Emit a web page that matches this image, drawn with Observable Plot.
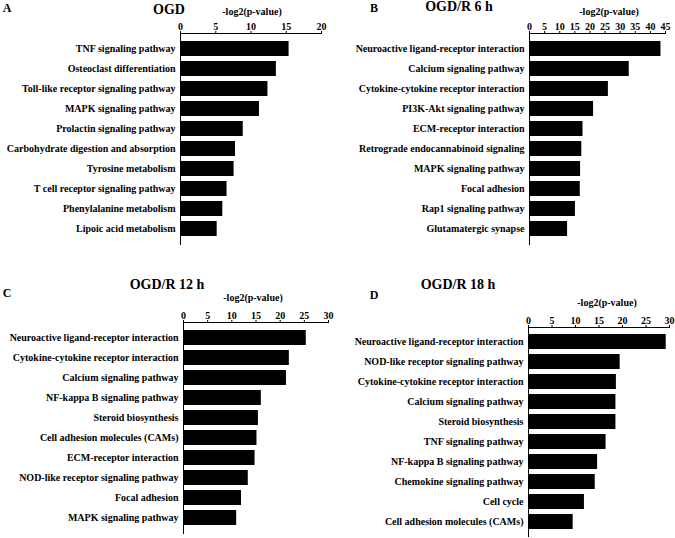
<!DOCTYPE html>
<html><head><meta charset="utf-8">
<script src="https://cdn.jsdelivr.net/npm/d3@7"></script>
<script src="https://cdn.jsdelivr.net/npm/@observablehq/plot@0.6"></script>
<style>
body{margin:0;background:#fff;}
#wrap{position:relative;width:675px;height:538px;overflow:hidden;background:#fff;font-family:"Liberation Serif","Times New Roman",serif;font-weight:bold;color:#000;}
.t{position:absolute;white-space:nowrap;line-height:1;transform:translate(-50%,-50%);}
.p{position:absolute;}
</style></head><body><div id="wrap"></div>
<script>
// Panel A: OGD
const catsA = ["TNF signaling pathway","Osteoclast differentiation","Toll-like receptor signaling pathway","MAPK signaling pathway","Prolactin signaling pathway","Carbohydrate digestion and absorption","Tyrosine metabolism","T cell receptor signaling pathway","Phenylalanine metabolism","Lipoic acid metabolism"];
const valsA = [15.4,13.6,12.4,11.2,8.9,7.8,7.6,6.6,6.0,5.2];
const ticksA = [0,5,10,15,20];
// Panel B: OGD/R 6 h
const catsB = ["Neuroactive ligand-receptor interaction","Calcium signaling pathway","Cytokine-cytokine receptor interaction","PI3K-Akt signaling pathway","ECM-receptor interaction","Retrograde endocannabinoid signaling","MAPK signaling pathway","Focal adhesion","Rap1 signaling pathway","Glutamatergic synapse"];
const valsB = [43.5,33.0,26.1,21.2,17.7,17.3,16.9,16.8,15.2,12.6];
const ticksB = [0,5,10,15,20,25,30,35,40,45];
// Panel C: OGD/R 12 h
const catsC = ["Neuroactive ligand-receptor interaction","Cytokine-cytokine receptor interaction","Calcium signaling pathway","NF-kappa B signaling pathway","Steroid biosynthesis","Cell adhesion molecules (CAMs)","ECM-receptor interaction","NOD-like receptor signaling pathway","Focal adhesion","MAPK signaling pathway"];
const valsC = [25.4,21.9,21.3,16.1,15.5,15.2,14.8,13.4,12.0,11.0];
const ticksC = [0,5,10,15,20,25,30];
// Panel D: OGD/R 18 h
const catsD = ["Neuroactive ligand-receptor interaction","NOD-like receptor signaling pathway","Cytokine-cytokine receptor interaction","Calcium signaling pathway","Steroid biosynthesis","TNF signaling pathway","NF-kappa B signaling pathway","Chemokine signaling pathway","Cell cycle","Cell adhesion molecules (CAMs)"];
const valsD = [29.3,19.5,18.7,18.6,18.6,16.5,14.7,14.2,11.9,9.5];
const ticksD = [0,5,10,15,20,25,30];

const panelLetters = ["A","B","C","D"];
const panelTitles = ["OGD","OGD/R 6 h","OGD/R 12 h","OGD/R 18 h"];
const axisLabel = "-log2(p-value)";

const wrap = document.getElementById("wrap");
function addText(txt, x, y, size){
  const d = document.createElement("div");
  d.className = "t"; d.textContent = txt;
  d.style.left = x + "px"; d.style.top = y + "px"; d.style.fontSize = size + "px";
  wrap.appendChild(d);
}

const panels = [
  {cats:catsA, vals:valsA, ticks:ticksA, left:0, top:0, width:337, height:250, mL:180, mR:16, mT:33, mB:5,
   letter:[7,8], title:[169,10], label:[252,12]},
  {cats:catsB, vals:valsB, ticks:ticksB, left:337, top:0, width:338, height:250, mL:192, mR:10, mT:33, mB:5,
   letter:[374,8], title:[459,7], label:[609,12]},
  {cats:catsC, vals:valsC, ticks:ticksC, left:0, top:250, width:337, height:288, mL:183, mR:9, mT:72, mB:4,
   letter:[7,293], title:[167,285], label:[253,298]},
  {cats:catsD, vals:valsD, ticks:ticksD, left:337, top:250, width:338, height:288, mL:191, mR:6, mT:77, mB:1,
   letter:[374,295], title:[458,285], label:[607,303]}
];

panels.forEach((p, k) => {
  const data = p.cats.map((c, i) => ({c, v: p.vals[i]}));
  const svg = Plot.plot({
    width: p.width, height: p.height,
    marginLeft: p.mL, marginRight: p.mR, marginTop: p.mT, marginBottom: p.mB,
    style: {fontFamily: '"Liberation Serif","Times New Roman",serif', fontWeight: "bold", fontSize: "10px", color: "black", background: "transparent", overflow: "visible"},
    x: {domain: [0, p.ticks[p.ticks.length - 1]], ticks: p.ticks, label: null},
    y: {domain: p.cats, paddingInner: 0.23, paddingOuter: 0.2, label: null},
    marks: [
      Plot.barX(data, {x: "v", y: "c", fill: "black"}),
      Plot.ruleX([0], {stroke: "black", strokeWidth: 1}),
      Plot.frame({anchor: "top", stroke: "black"}),
      Plot.axisX({anchor: "top", ticks: p.ticks, tickSize: 3, tickPadding: 1, label: null, fontSize: 10}),
      Plot.axisY({tickSize: 0, tickPadding: 5, label: null, fontSize: 10})
    ]
  });
  svg.classList.add("p");
  svg.style.left = p.left + "px";
  svg.style.top = p.top + "px";
  wrap.appendChild(svg);
  addText(panelLetters[k], p.letter[0], p.letter[1], 12);
  addText(panelTitles[k], p.title[0], p.title[1], 14);
  addText(axisLabel, p.label[0], p.label[1], 10);
});
</script></body></html>
